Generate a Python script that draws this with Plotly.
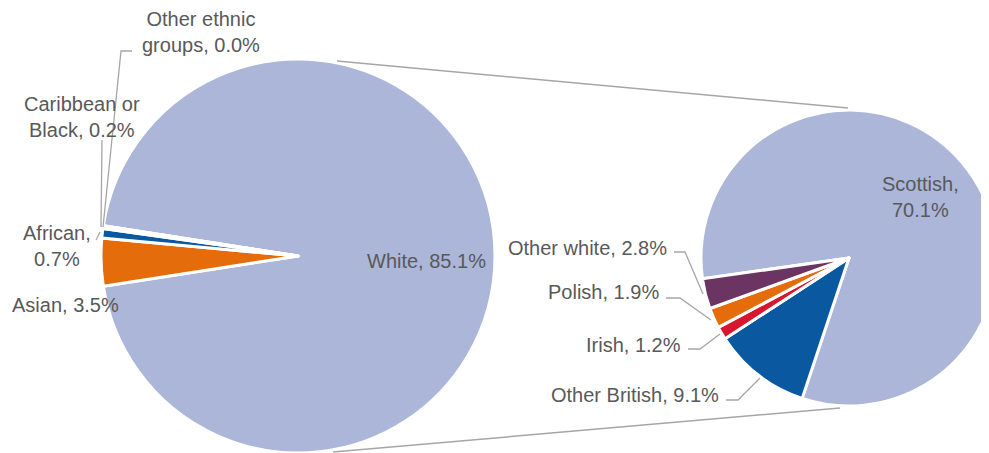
import plotly.graph_objects as go

W, H = 989, 453
OFF = 8  # page body margin offset

# ---- data ----
main_labels = ["White", "Asian", "African", "Caribbean or Black", "Other ethnic groups"]
main_values = [85.1, 3.5, 0.7, 0.2, 0.0]
main_text_labels = ["White", "Asian", "African", "Caribbean or<br>Black", "Other ethnic<br>groups"]
main_seps = [", ", ", ", ",<br>", ", ", ", "]
main_colors = ["#ABB6D9", "#E46C0A", "#0A58A0", "#C0504D", "#7F7F7F"]

white_labels = ["Scottish", "Other British", "Irish", "Polish", "Other white"]
white_values = [70.1, 9.1, 1.2, 1.9, 2.8]
white_seps = [",<br>", ", ", ", ", ", ", ", "]
white_colors = ["#ABB6D9", "#0A58A0", "#D7172F", "#E46C0A", "#6B3462"]


def px(x):
    return (x - OFF) / W


def py(y):
    return 1 - (y - OFF) / H


# left pie: center (298,256), r 197 ; right pie: center (849,258), r 148
left_dom = dict(x=[px(101), px(495)], y=[py(453), py(59)])
right_dom = dict(x=[px(701), 1.0], y=[py(406), py(110)])

main_total = sum(main_values)
main_rot = 90 - 0.5 * 360 * main_values[0] / main_total
white_rot = -98.1

fig = go.Figure()
fig.add_trace(go.Pie(
    labels=main_labels, values=main_values, sort=False, direction="clockwise",
    rotation=main_rot, domain=left_dom, textinfo="none", hoverinfo="label+value",
    marker=dict(colors=main_colors, line=dict(color="white", width=3)),
    showlegend=False,
))
fig.add_trace(go.Pie(
    labels=white_labels, values=white_values, sort=False, direction="clockwise",
    rotation=white_rot, domain=right_dom, textinfo="none", hoverinfo="label+value",
    marker=dict(colors=white_colors, line=dict(color="white", width=3)),
    showlegend=False,
))

font = dict(family="Liberation Sans, Arial, sans-serif", size=20, color="#595959")

# label placement (pixels): x, y, anchor
main_pos = [(426, 261, "center"), (65, 305, "center"), (57, 246, "center"),
            (82, 117, "center"), (201, 32, "center")]
white_pos = [(920, 197, "center"), (721, 395, "right"), (683, 345, "right"),
             (661, 292, "right"), (669, 248, "right")]

annotations = []
for lab, v, sep, (x, y, anc) in zip(main_text_labels, main_values, main_seps, main_pos):
    annotations.append(dict(text=f"{lab}{sep}{v:.1f}%", x=px(x), y=py(y), xref="paper", yref="paper",
                            xanchor=anc, yanchor="middle", showarrow=False, align="center", font=font))
for lab, v, sep, (x, y, anc) in zip(white_labels, white_values, white_seps, white_pos):
    annotations.append(dict(text=f"{lab}{sep}{v:.1f}%", x=px(x), y=py(y), xref="paper", yref="paper",
                            xanchor=anc, yanchor="middle", showarrow=False, align="center", font=font))

leader_pts = [
    [(132, 51), (121, 51), (103, 227)],
    [(102, 140), (101, 227)],
    [(96, 240), (100, 232)],
    [(674, 252), (685, 252), (703, 294)],
    [(666, 298), (680, 298), (711, 320)],
    [(688, 349), (700, 349), (720, 334)],
    [(726, 400), (738, 400), (760, 378)],
]
shapes = []
for pts in leader_pts:
    d = "M " + " L ".join(f"{px(a):.5f},{py(b):.5f}" for a, b in pts)
    shapes.append(dict(type="path", path=d, xref="paper", yref="paper",
                       line=dict(color="#A6A6A6", width=1.3)))

# connector lines between pies
shapes.append(dict(type="line", xref="paper", yref="paper", x0=px(337), y0=py(61), x1=px(848), y1=py(108),
                   line=dict(color="#A6A6A6", width=1.5)))
shapes.append(dict(type="line", xref="paper", yref="paper", x0=px(333), y0=py(452), x1=px(840), y1=py(408),
                   line=dict(color="#A6A6A6", width=1.5)))

fig.update_layout(
    width=W, height=H, margin=dict(l=0, r=0, t=0, b=0),
    paper_bgcolor="white", plot_bgcolor="white",
    annotations=annotations, shapes=shapes, font=font,
)

fig.write_html("out.html")
